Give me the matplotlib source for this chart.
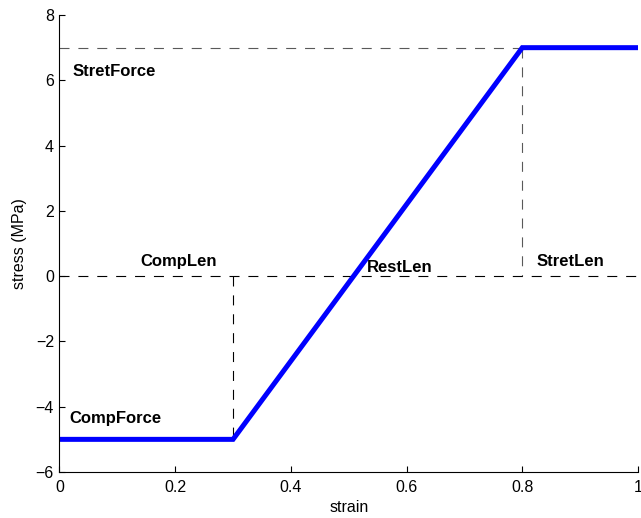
import matplotlib
matplotlib.use("Agg")
import matplotlib.pyplot as plt

# Piecewise-linear stress-strain law
strain = [0.0, 0.3, 0.8, 1.0]
stress = [-5.0, -5.0, 7.0, 7.0]

comp_len = 0.3
stret_len = 0.8
comp_force = -5.0
stret_force = 7.0

xticks = [0, 0.2, 0.4, 0.6, 0.8, 1]
xticklabels = ["0", "0.2", "0.4", "0.6", "0.8", "1"]
yticks = [-6, -4, -2, 0, 2, 4, 6, 8]
yticklabels = ["\u22126", "\u22124", "\u22122", "0", "2", "4", "6", "8"]

plt.rcParams["font.family"] = ["Liberation Sans", "DejaVu Sans"]

fig = plt.figure(figsize=(6.41, 5.18), dpi=100)
ax = fig.add_axes([0.0928, 0.0888, 0.9025, 0.8822])

# Reference guides
dash = dict(lw=0.8, ls=(0, (9, 8)))
ax.plot([0, stret_len], [stret_force, stret_force], color="0.35", **dash)
ax.plot([stret_len, stret_len], [stret_force, 0], color="0.35", **dash)
ax.plot([0, 1], [0, 0], color="k", **dash)
ax.plot([comp_len, comp_len], [0, comp_force], color="k", **dash)

# Constitutive curve
ax.plot(strain, stress, color="#0000ff", lw=3.6, solid_joinstyle="miter")

lab = dict(fontsize=12, fontweight="bold", va="center", ha="left")
ax.text(0.022, 6.28, "StretForce", **lab)
ax.text(0.017, -4.36, "CompForce", **lab)
ax.text(0.14, 0.45, "CompLen", **lab)
ax.text(0.532, 0.28, "RestLen", **lab)
ax.text(0.824, 0.45, "StretLen", **lab)

ax.set_xlim(0, 1)
ax.set_ylim(-6, 8)
ax.set_xticks(xticks)
ax.set_xticklabels(xticklabels)
ax.set_yticks(yticks)
ax.set_yticklabels(yticklabels)
ax.tick_params(direction="in", length=4.3, width=0.8, labelsize=11.5)
ax.tick_params(axis="x", pad=6)
ax.tick_params(axis="y", pad=4)
ax.spines["top"].set_visible(False)
ax.spines["right"].set_visible(False)
ax.set_xlabel("strain", fontsize=11.5, labelpad=3)
ax.set_ylabel("stress (MPa)", fontsize=11.5, labelpad=6)

fig.savefig("out.png", dpi=100)
